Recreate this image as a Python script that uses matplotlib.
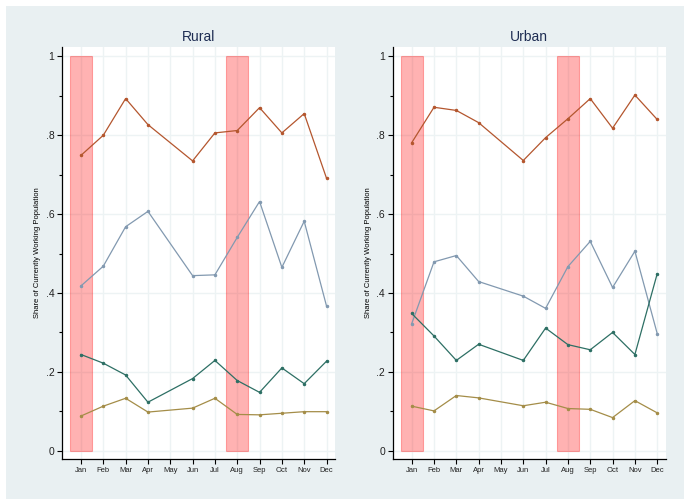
import numpy as np
import matplotlib.pyplot as plt
from matplotlib.patches import Rectangle

plt.rcParams['font.family'] = ['Liberation Sans', 'DejaVu Sans']

# months with observations (no May survey round)
months = [1, 2, 3, 4, 6, 7, 8, 9, 10, 11, 12]
month_labels = ["Jan", "Feb", "Mar", "Apr", "May", "Jun", "Jul", "Aug", "Sep", "Oct", "Nov", "Dec"]
shade_months = [1, 8]

rural_a = [0.749, 0.800, 0.893, 0.827, 0.735, 0.806, 0.812, 0.870, 0.806, 0.855, 0.691]
rural_b = [0.418, 0.468, 0.568, 0.607, 0.444, 0.446, 0.541, 0.632, 0.465, 0.582, 0.367]
rural_c = [0.244, 0.222, 0.192, 0.123, 0.183, 0.229, 0.178, 0.148, 0.210, 0.170, 0.227]
rural_d = [0.088, 0.113, 0.133, 0.098, 0.108, 0.133, 0.092, 0.091, 0.095, 0.099, 0.099]

urban_a = [0.781, 0.871, 0.863, 0.832, 0.736, 0.794, 0.842, 0.893, 0.818, 0.902, 0.840]
urban_b = [0.322, 0.479, 0.495, 0.429, 0.392, 0.361, 0.467, 0.531, 0.414, 0.506, 0.297]
urban_c = [0.348, 0.291, 0.229, 0.270, 0.229, 0.311, 0.269, 0.256, 0.300, 0.244, 0.449]
urban_d = [0.113, 0.101, 0.140, 0.134, 0.114, 0.123, 0.107, 0.105, 0.084, 0.127, 0.096]

colors = ["#b4562e", "#8299b0", "#2d6f64", "#a48d48"]
bg = "#e9f0f2"
grid_c = "#edf3f4"

fig = plt.figure(figsize=(6.84, 4.99), dpi=100, facecolor="white")
fig.patches.append(Rectangle((6 / 684, 0), 1, 493 / 499, transform=fig.transFigure,
                             facecolor=bg, edgecolor="none", zorder=-10))

panels = [
    ("Rural", [rural_a, rural_b, rural_c, rural_d], 62 / 684),
    ("Urban", [urban_a, urban_b, urban_c, urban_d], 392.7 / 684),
]

for title, series, left in panels:
    ax = fig.add_axes([left, 40 / 499, 273 / 684, 412.3 / 499])
    ax.set_facecolor("white")

    for m in shade_months:
        ax.bar(m, 1.0, width=1.0, bottom=0, color="red", alpha=0.3,
               edgecolor=(1, 0, 0, 0.35), linewidth=0.8, zorder=2)

    for vals, c in zip(series, colors):
        ax.plot(months, vals, color=c, linewidth=0.9, marker="o",
                markersize=1.5, zorder=3)

    ax.set_xlim(0.15, 12.38)
    ax.set_ylim(-0.021, 1.0246)
    ax.set_xticks(range(1, 13))
    ax.set_xticklabels(month_labels, fontsize=5.5, color="#222222")
    ax.set_yticks([0, 0.2, 0.4, 0.6, 0.8, 1.0])
    ax.set_yticklabels(["0", ".2", ".4", ".6", ".8", "1"], fontsize=7.5, color="#222222")
    ax.set_yticks([0.1, 0.3, 0.5, 0.7, 0.9], minor=True)
    ax.tick_params(axis="both", which="major", direction="out", length=3.5, width=0.8, pad=2)
    ax.tick_params(axis="y", which="minor", direction="out", length=2.5, width=0.8)

    ax.grid(True, axis="x", color=grid_c, linewidth=1.0, zorder=0)
    ax.grid(True, axis="y", which="major", color=grid_c, linewidth=1.0, zorder=0)
    ax.set_axisbelow(True)

    for s in ["top", "right"]:
        ax.spines[s].set_visible(False)
    for s in ["left", "bottom"]:
        ax.spines[s].set_color("black")
        ax.spines[s].set_linewidth(0.9)

    ax.set_ylabel("Share of Currently Working Population", fontsize=5.5, labelpad=3)
    ax.set_title(title, fontsize=10, color="#1e2d53", pad=4)

fig.savefig("out.png", dpi=100, facecolor=fig.get_facecolor())
